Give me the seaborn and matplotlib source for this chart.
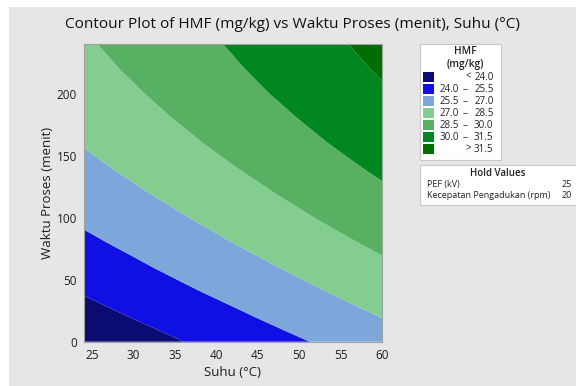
import numpy as np
import matplotlib
matplotlib.use("Agg")
import matplotlib.pyplot as plt
from matplotlib.patches import Rectangle
import seaborn as sns

# Grid of fitted HMF (mg/kg) values: rows follow waktu, columns follow suhu
suhu = [24, 30, 36, 42, 48, 54, 60]
waktu = [0, 20, 40, 60, 80, 100, 120, 140, 160, 180, 200, 220, 240]
hmf = [
    [22.80, 23.39, 23.99, 24.58, 25.18, 25.77, 26.36],
    [23.46, 24.06, 24.65, 25.24, 25.84, 26.43, 27.03],
    [24.09, 24.68, 25.28, 25.87, 26.46, 27.06, 27.65],
    [24.68, 25.27, 25.87, 26.46, 27.05, 27.65, 28.24],
    [25.23, 25.82, 26.42, 27.01, 27.61, 28.20, 28.79],
    [25.75, 26.34, 26.93, 27.53, 28.12, 28.72, 29.31],
    [26.23, 26.82, 27.41, 28.01, 28.60, 29.20, 29.79],
    [26.67, 27.26, 27.86, 28.45, 29.05, 29.64, 30.23],
    [27.08, 27.67, 28.26, 28.86, 29.45, 30.05, 30.64],
    [27.45, 28.04, 28.63, 29.23, 29.82, 30.42, 31.01],
    [27.78, 28.37, 28.97, 29.56, 30.16, 30.75, 31.34],
    [28.08, 28.67, 29.27, 29.86, 30.45, 31.05, 31.64],
    [28.34, 28.93, 29.53, 30.12, 30.72, 31.31, 31.90],
]
breaks = [24.0, 25.5, 27.0, 28.5, 30.0, 31.5]
band_labels = [("", "<", "24.0"), ("24.0", "–", "25.5"), ("25.5", "–", "27.0"),
               ("27.0", "–", "28.5"), ("28.5", "–", "30.0"), ("30.0", "–", "31.5"),
               ("", ">", "31.5")]
hold_names = ["PEF (kV)", "Kecepatan Pengadukan (rpm)"]
hold_values = ["25", "20"]

band_colors = sns.color_palette(["#0b0b72", "#1010e4", "#7da6da", "#83cd91",
                                 "#58b162", "#00871f", "#006e00"])

sns.set_theme(style="white")
plt.rcParams["font.family"] = ["Open Sans", "DejaVu Sans"]

W, H = 576, 386
fig = plt.figure(figsize=(W / 100, H / 100), dpi=100)
fig.patch.set_facecolor("white")
BG = "#e6e6e6"
fig.add_artist(Rectangle((9 / W, 0), 1 - 9 / W, 1 - 7 / H, transform=fig.transFigure,
                         facecolor=BG, edgecolor="none", zorder=-10))


def fx(x):
    return x / W


def fy(y):
    return 1 - y / H


ax = fig.add_axes([fx(84), fy(341.7), fx(382) - fx(84), (341.7 - 44) / H])
X, Y = np.meshgrid(suhu, waktu)
Z = np.array(hmf)
levels = [min(Z.min(), breaks[0]) - 1] + breaks + [max(Z.max(), breaks[-1]) + 1]
ax.contourf(X, Y, Z, levels=levels, colors=band_colors, antialiased=True)
ax.set_xlim(24, 60)
ax.set_ylim(0, 240)
ax.set_xticks([25, 30, 35, 40, 45, 50, 55, 60])
ax.set_yticks([0, 50, 100, 150, 200])
ax.tick_params(axis="both", direction="out", length=3, width=0.8, color="#9a9a9a",
               labelsize=8.5, labelcolor="#1e1e1e", pad=2)
for s in ax.spines.values():
    s.set_color("#a0a0a0")
    s.set_linewidth(0.8)
ax.set_xlabel("Suhu (°C)", fontsize=9.5, color="#1e1e1e", labelpad=3)
ax.set_ylabel("Waktu Proses (menit)", fontsize=9.5, color="#1e1e1e", labelpad=2)

fig.text(fx(65), fy(25), "Contour Plot of HMF (mg/kg) vs Waktu Proses (menit), Suhu (°C)",
         fontsize=11.1, color="#111111", ha="left", va="center")

# legend box for the contour bands
fig.add_artist(Rectangle((fx(419.5), fy(160)), (500.5 - 419.5) / W, (160 - 44) / H,
                         transform=fig.transFigure, facecolor="white",
                         edgecolor="#c8c8c8", linewidth=0.8))
fig.text(fx(465), fy(51.5), "HMF", fontsize=7.3, fontweight="semibold", ha="center",
         va="center", color="#222222")
fig.text(fx(465), fy(64.5), "(mg/kg)", fontsize=7.3, fontweight="semibold", ha="center",
         va="center", color="#222222")
for i, (lo, sym, hi) in enumerate(band_labels):
    yc = 77.3 + 12 * i
    fig.add_artist(Rectangle((fx(423.3), fy(yc + 5)), 10.7 / W, 10 / H,
                             transform=fig.transFigure, facecolor=band_colors[i],
                             edgecolor="none"))
    if lo:
        fig.text(fx(459), fy(yc), lo, fontsize=7, ha="right", va="center", color="#222222")
    xs = 465 if sym == "–" else 468.5
    fig.text(fx(xs), fy(yc), sym, fontsize=7, ha="center", va="center", color="#222222")
    fig.text(fx(493.5), fy(yc), hi, fontsize=7, ha="right", va="center", color="#222222")

# box listing the held factor settings
fig.add_artist(Rectangle((fx(420), fy(204.5)), (577 - 420) / W, (204.5 - 165) / H,
                         transform=fig.transFigure, facecolor="white",
                         edgecolor="#c8c8c8", linewidth=0.8))
fig.text(fx(498), fy(173.5), "Hold Values", fontsize=7, fontweight="semibold", ha="center",
         va="center", color="#222222")
for i, (name, val) in enumerate(zip(hold_names, hold_values)):
    yc = 185 + 10.5 * i
    fig.text(fx(427), fy(yc), name, fontsize=6.5, ha="left", va="center", color="#222222")
    fig.text(fx(572), fy(yc), val, fontsize=6.5, ha="right", va="center", color="#222222")

fig.savefig("out.png", dpi=100, facecolor=fig.get_facecolor())
